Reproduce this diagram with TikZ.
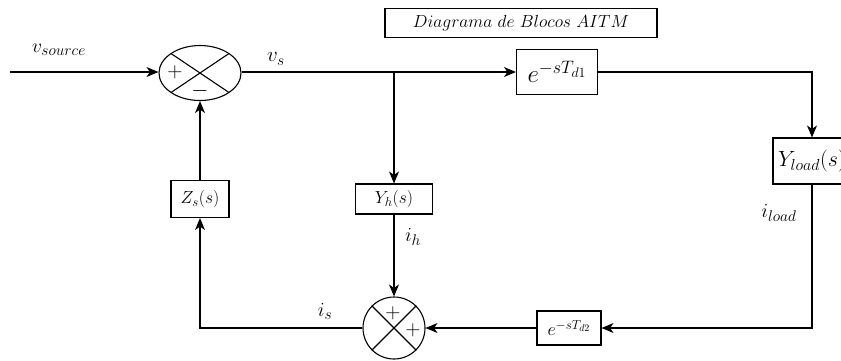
\RequirePackage{fix-cm}
\documentclass[tikz,border=0pt]{standalone}
\usetikzlibrary{arrows.meta,shapes.geometric,calc}
\DeclareMathSizes{17.5}{17.5}{13}{10}
\DeclareMathSizes{18}{18}{13}{10}
\DeclareMathSizes{19.5}{19.5}{15.5}{11}
\DeclareMathSizes{19}{19}{14}{10}
\DeclareMathSizes{20}{20}{15.5}{11}
\DeclareMathSizes{21}{21}{15.5}{11}
\DeclareMathSizes{22}{22}{16}{12}
\DeclareMathSizes{25}{25}{18}{14}
\begin{document}
\begin{tikzpicture}[x=1pt,y=-1pt,
  wire/.style={line width=1.1pt},
  arr/.style={wire,-{Stealth[length=12pt,width=10pt,inset=3.5pt]}},
  blk/.style={draw,line width=1.1pt,inner sep=0pt,anchor=center},
  lbl/.style={inner sep=0pt,anchor=center}]
\useasboundingbox (0,0) rectangle (841,360);
% title
\node[blk,minimum width=272,minimum height=29,font=\fontsize{17.5}{19}\selectfont] (title) at (521,23) {$Diagrama\ de\ Blocos\ AITM$};
% summing junction 1
\node[draw,ellipse,line width=1.1pt,minimum width=82,minimum height=55,inner sep=0pt] (s1) at (200,73) {};
\draw[wire] ($(s1)+(-29,-19.5)$) -- ($(s1)+(29,19.5)$);
\draw[wire] ($(s1)+(-29,19.5)$) -- ($(s1)+(29,-19.5)$);
\node[lbl,font=\fontsize{21}{23}\selectfont] (p1) at (175,72) {$+$};
\node[lbl,font=\fontsize{22}{24}\selectfont] (m1) at (200,91) {$-$};
% summing junction 2
\node[draw,circle,line width=1.1pt,minimum size=62,inner sep=0pt] (s2) at (394,328) {};
\draw[wire] (s2.north west) -- (s2.south east);
\draw[wire] (s2.south west) -- (s2.north east);
\node[lbl,font=\fontsize{21}{23}\selectfont] (p2) at (393,313) {$+$};
\node[lbl,font=\fontsize{21}{23}\selectfont] (p3) at (413,330) {$+$};
% blocks
\node[blk,minimum width=81,minimum height=45,font=\fontsize{25}{27}\selectfont] (d1) at (557,72) {$e^{-sT_{d1}}$};
\node[blk,minimum width=78,minimum height=46,font=\fontsize{22}{24}\selectfont] (yl) at (812,161) {$Y_{load}(s)$};
\node[blk,minimum width=64,minimum height=34,font=\fontsize{18}{20}\selectfont] (d2) at (569,328) {$e^{-sT_{d2}}$};
\node[blk,minimum width=77,minimum height=30,font=\fontsize{17.5}{19}\selectfont] (yh) at (394,199) {$Y_h(s)$};
\node[blk,minimum width=58,minimum height=37,font=\fontsize{17.5}{19}\selectfont] (zs) at (200,199) {$Z_s(s)$};
% coordinates
\coordinate (in) at (10,72);
\coordinate (br) at (394,72);
\coordinate (c1) at (812,72);
\coordinate (c2) at (812,328);
\coordinate (c3) at (200,328);
% connectors
\draw[arr] (in) -- (s1.west |- in);
\draw[arr] (s1.east |- in) -- (d1.west |- in);
\draw[arr] (br) -- (yh.north);
\draw[arr] (d1.east) -- (c1) -- (yl.north);
\draw[arr] (yl.south) -- (c2) -- (d2.east);
\draw[arr] (d2.west) -- (s2.east);
\draw[arr] (yh.south) -- (s2.north);
\draw[arr] (s2.west) -- (c3) -- (zs.south);
\draw[arr] (zs.north) -- (s1.south);
% labels
\node[lbl,font=\fontsize{19.5}{21}\selectfont] (lvs) at (59,50) {$v_{source}$};
\node[lbl,font=\fontsize{21}{23}\selectfont] (lv) at (276,59) {$v_s$};
\node[lbl,font=\fontsize{20}{22}\selectfont] (lil) at (779,213) {$i_{load}$};
\node[lbl,font=\fontsize{20}{22}\selectfont] (lih) at (413,237) {$i_h$};
\node[lbl,font=\fontsize{20}{22}\selectfont] (lis) at (325,311) {$i_s$};
\end{tikzpicture}
\end{document}
